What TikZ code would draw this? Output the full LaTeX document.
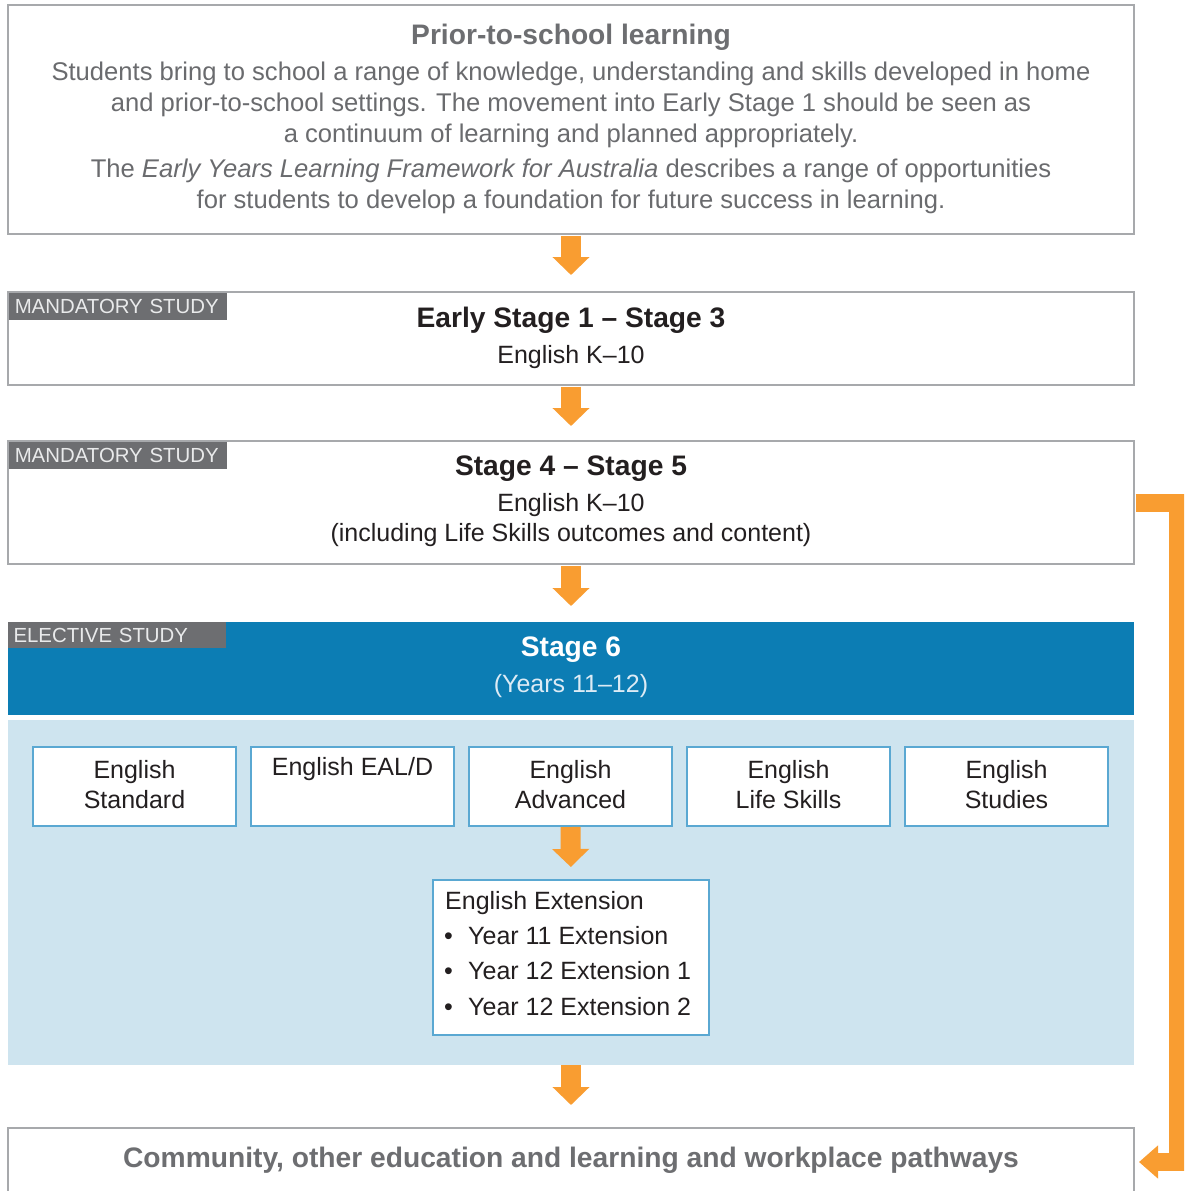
\documentclass[tikz,border=0pt]{standalone}
\usepackage{fontspec}
\setmainfont{Liberation Sans}
\usetikzlibrary{arrows.meta}
\definecolor{boxgray}{HTML}{A7A9AC}
\definecolor{taggray}{HTML}{6D6E71}
\definecolor{tagtext}{HTML}{E9EAEB}
\definecolor{titlegray}{HTML}{6D6E71}
\definecolor{bodygray}{HTML}{6A6B6E}
\definecolor{darktext}{HTML}{231F20}
\definecolor{stageblue}{HTML}{0C7DB4}
\definecolor{paleblue}{HTML}{CEE4EF}
\definecolor{edgeblue}{HTML}{5AA8D2}
\definecolor{yearstext}{HTML}{DCEBF5}
\definecolor{arroworange}{HTML}{F99D31}
\begin{document}
\begin{tikzpicture}[x=1pt,y=-1pt,
  graybox/.style={draw=boxgray, line width=2.5pt, fill=white, minimum width=1126pt, inner sep=0pt, outer sep=0pt},
  tagbox/.style={fill=taggray, text=tagtext, font=\fontsize{20.4}{24}\selectfont, anchor=north west,
    text width=206.5pt, align=left, inner xsep=5.5pt, inner ysep=0pt, minimum height=27pt, outer sep=0pt},
  headtext/.style={font=\bfseries\fontsize{28.2}{34}\selectfont, text=darktext, inner sep=0pt},
  bodytext/.style={font=\fontsize{25}{31}\selectfont, text=darktext, inner sep=0pt},
  smallbox/.style={draw=edgeblue, line width=2pt, fill=white, minimum width=203pt, minimum height=79pt, inner sep=0pt, outer sep=0pt},
  downarrow/.style={draw=arroworange, line width=20pt, -{Triangle[width=36pt,length=18pt]}, shorten <=1.5pt},
  sidearrow/.style={draw=arroworange, line width=18pt, line join=miter, -{Triangle[width=32pt,length=19pt]}, shorten <=1.5pt}
]
\useasboundingbox (0,0) rectangle (1184,1191);
\clip (0,0) rectangle (1184,1191);
\fill[white] (0,0) rectangle (1184,1191);

% Prior-to-school box
\node[graybox, minimum height=229pt] (prior) at (571,119.5) {};
\node[headtext, text=titlegray] (priortitle) at (571,37.5) {Prior-to-school learning};
\node[bodytext, text=bodygray, align=center, font=\fontsize{25.6}{31}\selectfont] (priorpa) at (571,105)
  {Students bring to school a range of knowledge, understanding and skills developed in home\\
   and prior-to-school settings. The movement into Early Stage 1 should be seen as\\
   a continuum of learning and planned appropriately.};
\node[bodytext, text=bodygray, align=center, font=\fontsize{25.6}{31}\selectfont] (priorpb) at (571,186.5)
  {The \textit{Early Years Learning Framework for Australia} describes a range of opportunities\\
   for students to develop a foundation for future success in learning.};

% Early Stage 1 - Stage 3
\node[graybox, minimum height=93pt] (esone) at (571,338.5) {};
\node[tagbox] (tagone) at ([shift={(1.25pt,-1.25pt)}]esone.north west) {MANDATORY STUDY};
\node[headtext] (esonetitle) at (571,320) {Early Stage 1 – Stage 3};
\node[bodytext] (esonebody) at (571,357) {English K–10};

% Stage 4 - Stage 5
\node[graybox, minimum height=123pt] (sfour) at (571,502.5) {};
\node[tagbox] (tagtwo) at ([shift={(1.25pt,-1.25pt)}]sfour.north west) {MANDATORY STUDY};
\node[headtext] (sfourtitle) at (571,469) {Stage 4 – Stage 5};
\node[bodytext] (sfourbodya) at (571,505.5) {English K–10};
\node[bodytext] (sfourbodyb) at (571,535.5) {(including Life Skills outcomes and content)};

% Stage 6
\node[fill=stageblue, minimum width=1126pt, minimum height=93pt, inner sep=0pt, outer sep=0pt] (ssix) at (571,668.5) {};
\node[tagbox, minimum height=26pt] (tagthree) at (ssix.north west) {ELECTIVE STUDY};
\node[headtext, text=white] (ssixtitle) at (571,650) {Stage 6};
\node[bodytext, text=yearstext] (ssixyears) at (571,686.5) {(Years 11–12)};

\node[fill=paleblue, minimum width=1126pt, minimum height=345pt, inner sep=0pt, outer sep=0pt] (courses) at (571,892.5) {};

% course boxes
\node[smallbox] (std) at (134.5,786.5) {};
\node[smallbox] (eald) at (352.5,786.5) {};
\node[smallbox] (adv) at (570.5,786.5) {};
\node[smallbox] (life) at (788.5,786.5) {};
\node[smallbox] (stud) at (1006.5,786.5) {};
\node[bodytext, align=center, font=\fontsize{25}{30}\selectfont] (stdtext) at (134.5,784.5) {English\\Standard};
\node[bodytext] (ealdtext) at (352.5,769.5) {English EAL/D};
\node[bodytext, align=center, font=\fontsize{25}{30}\selectfont] (advtext) at (570.5,784.5) {English\\Advanced};
\node[bodytext, align=center, font=\fontsize{25}{30}\selectfont] (lifetext) at (788.5,784.5) {English\\Life Skills};
\node[bodytext, align=center, font=\fontsize{25}{30}\selectfont] (studtext) at (1006.5,784.5) {English\\Studies};

% Extension box
\node[draw=edgeblue, line width=2pt, fill=white, minimum width=276pt, minimum height=155pt, inner sep=0pt, outer sep=0pt] (ext) at (571,957.5) {};
\node[bodytext, anchor=base west] (extt) at (445,909) {English Extension};
\node[bodytext, anchor=base west] (bula) at (444,944.5) {•};
\node[bodytext, anchor=base west] (exta) at (468,944.5) {Year 11 Extension};
\node[bodytext, anchor=base west] (bulb) at (444,979.5) {•};
\node[bodytext, anchor=base west] (extb) at (468,979.5) {Year 12 Extension 1};
\node[bodytext, anchor=base west] (bulc) at (444,1015) {•};
\node[bodytext, anchor=base west] (extc) at (468,1015) {Year 12 Extension 2};

% Bottom box
\node[graybox, minimum height=120pt] (comm) at (571,1188) {};
\node[headtext, text=titlegray] (commtext) at (571,1160) {Community, other education and learning and workplace pathways};

% arrows
\draw[downarrow, shorten >=17pt] (prior.south) -- (esone.north);
\draw[downarrow, shorten >=15pt] (esone.south) -- (sfour.north);
\draw[downarrow, shorten >=16pt] (sfour.south) -- (ssix.north);
\draw[downarrow, shorten >=13pt, shorten <=1pt] (adv.south) -- (ext.north);
\draw[downarrow, shorten >=23pt, shorten <=0pt] (courses.south) -- (comm.north);
\coordinate (bend) at (1178,1162);
\coordinate (commin) at (1139,1162);
\draw[sidearrow] (sfour.east) -| (bend) -- (commin);
\end{tikzpicture}
\end{document}
